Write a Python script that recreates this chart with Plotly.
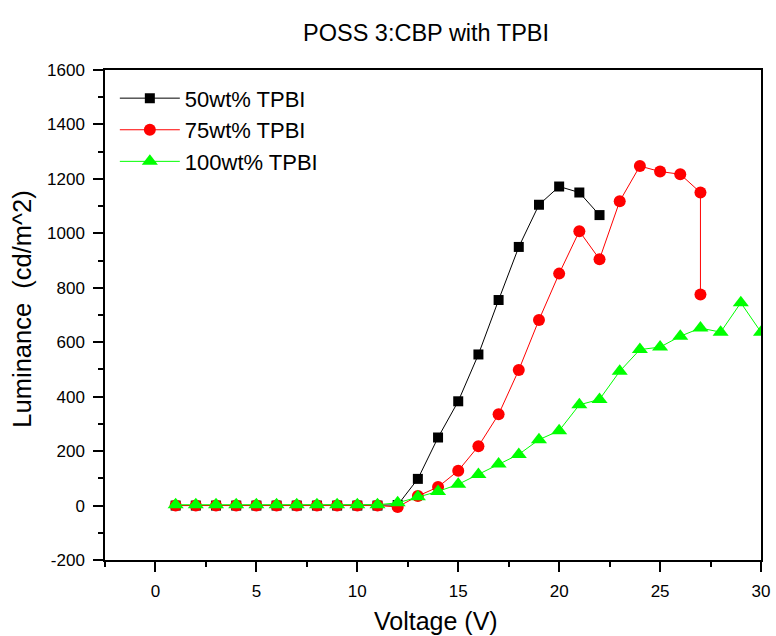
import plotly.graph_objects as go

v50 = list(range(1, 23))
lum50 = [0, 0, 0, 0, 0, 0, 0, 0, 0, 0, 0, 2, 98, 250, 383, 555, 755, 950, 1105, 1172, 1150, 1067]

v75 = list(range(1, 28)) + [27]
lum75 = [0, 0, 0, 0, 0, 0, 0, 0, 0, 0, 0, -5, 35, 68, 128, 218, 335, 498, 682, 852, 1008, 905, 1118, 1247, 1227, 1217, 1150, 775]

v100 = list(range(1, 31))
lum100 = [3, 3, 3, 3, 3, 3, 3, 3, 3, 3, 3, 10, 32, 52, 78, 114, 153, 188, 242, 275, 370, 390, 493, 573, 582, 622, 652, 637, 745, 637]

names = ["50wt% TPBI", "75wt% TPBI", "100wt% TPBI"]

x_ticks = [0, 5, 10, 15, 20, 25, 30]
y_ticks = [-200, 0, 200, 400, 600, 800, 1000, 1200, 1400, 1600]
y_ticktext = ["-200", "0", "200", "400", "600", "800", "1000", "1200", "1400", "1600"]

fig = go.Figure()
fig.add_trace(go.Scatter(x=v50, y=lum50, mode="lines+markers", name=names[0],
                         line=dict(color="black", width=1),
                         marker=dict(symbol="square", size=10, color="black")))
fig.add_trace(go.Scatter(x=v75, y=lum75, mode="lines+markers", name=names[1],
                         line=dict(color="#ff0000", width=1),
                         marker=dict(symbol="circle", size=12, color="#ff0000")))
fig.add_trace(go.Scatter(x=v100, y=lum100, mode="lines+markers", name=names[2],
                         line=dict(color="#00ff00", width=1),
                         marker=dict(symbol="triangle-up", size=14, color="#00ff00")))

font_family = "Liberation Sans, Arial, sans-serif"

fig.update_layout(
    width=776, height=636,
    margin=dict(l=105, r=15, t=70, b=76, autoexpand=False),
    paper_bgcolor="white", plot_bgcolor="white",
    font=dict(family=font_family, color="black"),
    title=dict(text="POSS 3:CBP with TPBI", x=0.549, xanchor="center",
               y=0.948, yanchor="middle", font=dict(size=23.5, color="black")),
    legend=dict(x=0.015, y=0.985, xanchor="left", yanchor="top",
                bgcolor="rgba(0,0,0,0)", font=dict(size=22),
                tracegroupgap=0, itemwidth=60),
    showlegend=True,
    annotations=[
        dict(text="Voltage (V)", xref="paper", yref="paper", x=0.5046, y=-0.124,
             xanchor="center", yanchor="middle", showarrow=False, font=dict(size=25)),
        dict(text="Luminance\u00a0\u00a0(cd/m^2)", xref="paper", yref="paper", x=-0.1265, y=0.511,
             xanchor="center", yanchor="middle", showarrow=False, textangle=-90,
             font=dict(size=25.5)),
    ],
)
fig.update_xaxes(
    range=[-2.5, 30], tickmode="array", tickvals=x_ticks,
    ticks="outside", ticklen=10, tickwidth=1.5, tickcolor="black", ticklabelstandoff=5,
    minor=dict(dtick=2.5, tick0=0, ticks="outside", ticklen=5, tickwidth=1.5, tickcolor="black"),
    showline=True, linecolor="black", linewidth=1.5, mirror=True,
    showgrid=False, zeroline=False, automargin=False,
    tickfont=dict(size=17),
)
fig.update_yaxes(
    range=[-200, 1600], tickmode="array", tickvals=y_ticks, ticktext=y_ticktext,
    ticks="outside", ticklen=10, tickwidth=1.5, tickcolor="black", ticklabelstandoff=5,
    minor=dict(dtick=100, tick0=0, ticks="outside", ticklen=5, tickwidth=1.5, tickcolor="black"),
    showline=True, linecolor="black", linewidth=1.5, mirror=True,
    showgrid=False, zeroline=False, automargin=False,
    tickfont=dict(size=17),
)

fig.write_html("out.html")
